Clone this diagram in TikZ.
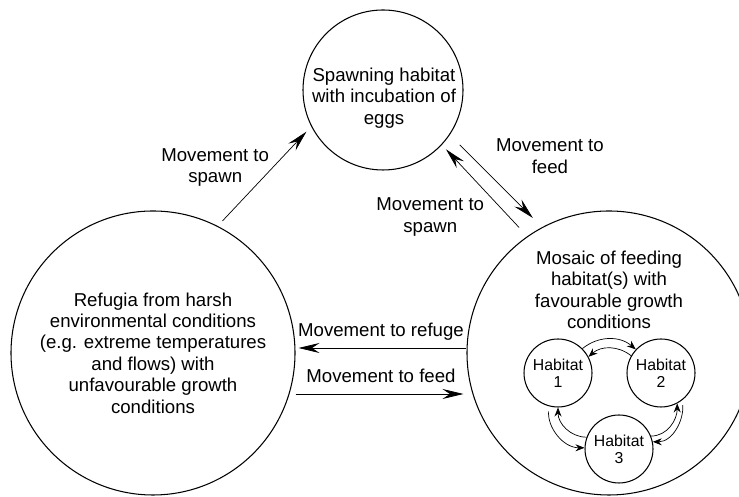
\documentclass[tikz,border=0pt]{standalone}
\usepackage{fontspec}
\setmainfont{Liberation Sans}
\usetikzlibrary{arrows.meta}

\begin{document}
\begin{tikzpicture}[
    ring/.style={circle, draw, line width=0.6pt, inner sep=0pt},
    big/.style={ring, minimum size=5.68cm},
    hab/.style={ring, minimum size=1.36cm, align=center, font=\fontsize{9}{9.8}\selectfont},
    txt/.style={align=center, inner sep=2pt, font=\fontsize{10.6}{12.2}\selectfont},
    a/.style={-{Stealth[length=4.2mm, width=2mm, inset=1.5mm]}, line width=0.4pt},
    sa/.style={-{Stealth[length=1.8mm, width=1.4mm, inset=0.6mm]}, line width=0.4pt},
]
\useasboundingbox (0,0) rectangle (14.78,9.94);

\node[txt, big] (refugia) at (3.06,2.88) {Refugia from harsh\\environmental conditions\\(e.g. extreme temperatures\\and flows) with\\unfavourable growth\\conditions};
\node[ring, minimum size=3.2cm] (spawning) at (7.66,8.14) {};
\node[txt] (spawntxt) at (7.68,7.98) {Spawning habitat\\with incubation of\\eggs};
\node[big] (mosaic) at (12.18,2.88) {};
\node[txt] (mosaictxt) at (12.18,4.14) {Mosaic of feeding\\habitat(s) with\\favourable growth\\conditions};

\node[hab] (hab1) at (11.16,2.48) {Habitat\\1};
\node[hab] (hab2) at (13.22,2.48) {Habitat\\2};
\node[hab] (hab3) at (12.38,0.96) {Habitat\\3};

\draw[a, shorten <=1.4mm, shorten >=1.4mm] (refugia.63) -- (spawning.207) node[txt, pos=0.59, left] {Movement to\\spawn};
\draw[a, shorten <=2.8mm, shorten >=2.6mm] (spawning.-34) -- (mosaic.118) node[txt, pos=0.46, above right] {Movement to\\feed};
\draw[a, shorten <=2.4mm, shorten >=1.2mm] (mosaic.125) -- (spawning.-43) node[txt, pos=0.46, below left] {Movement to\\spawn};
\draw[a, shorten >=0.6mm] ([yshift=1mm]mosaic.west) -- ([yshift=1mm]refugia.east) node[txt, midway, above=0.7mm] {Movement to refuge};
\draw[a, shorten >=0.6mm] ([yshift=-8.2mm]refugia.east) -- ([yshift=-8.2mm]mosaic.west) node[txt, midway, above=1.5mm] {Movement to feed};

\draw[sa] (hab1.45) to[bend left=40] (hab2.137);
\draw[sa] (hab2.150) to[bend right=40] (hab1.28);
\draw[sa] (hab3.160) to[out=180, in=-90] (hab1.-90);
\draw[sa, shorten <=1mm] (hab1.-105) to[out=-95, in=180] (hab3.178);
\draw[sa] (hab3.22) to[out=0, in=-90] (hab2.-62);
\draw[sa, shorten <=1mm] (hab2.-52) to[out=-85, in=0] (hab3.12);
\end{tikzpicture}
\end{document}
